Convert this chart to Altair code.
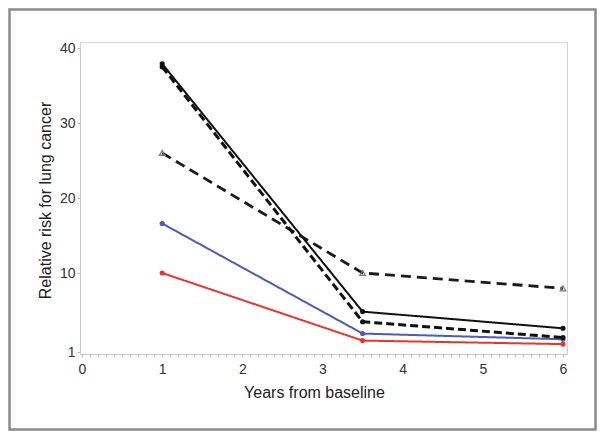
import altair as alt
import pandas as pd

years = [1, 3.5, 6]
series_names = ["Solid black", "Dashed black", "Dashed triangle", "Blue", "Red"]
s_solid_black = [37.9, 5.6, 3.7]
s_dashed_black = [37.5, 4.45, 2.65]
s_dashed_tri = [26.0, 10.0, 8.25]
s_blue = [16.6, 3.1, 2.45]
s_red = [10.0, 2.3, 1.9]

y_ticks = [1, 10, 20, 30, 40]
x_ticks = [i / 10 for i in range(61)]

styles = {
    "Red": dict(color="#e8362c", dash=[1, 0], width=2.0),
    "Blue": dict(color="#4b5bb7", dash=[1, 0], width=2.0),
    "Dashed triangle": dict(color="#1a1a1a", dash=[10, 6], width=2.8),
    "Dashed black": dict(color="#111111", dash=[8, 4], width=3.0),
    "Solid black": dict(color="#111111", dash=[1, 0], width=2.0),
}

rows = []
for name, vals in zip(series_names, [s_solid_black, s_dashed_black, s_dashed_tri, s_blue, s_red]):
    for x, v in zip(years, vals):
        rows.append({"series": name, "year": x, "rr": v})
df = pd.DataFrame(rows)

x_enc = alt.X("year:Q",
              scale=alt.Scale(domain=[-0.025, 6.05], nice=False, zero=False),
              axis=alt.Axis(values=x_ticks, title="Years from baseline",
                            labelExpr="abs(datum.value - round(datum.value)) < 0.001 ? '' + round(datum.value) : ''",
                            labelOverlap=False, tickSize=3, labelPadding=5, titlePadding=8,
                            titleX=234))
y_enc = alt.Y("rr:Q",
              scale=alt.Scale(domain=[1, 10, 40], range=[310, 231, 6], nice=False, zero=False),
              axis=alt.Axis(values=y_ticks, title="Relative risk for lung cancer",
                            tickSize=3, labelPadding=2, titlePadding=6))

layers = []
for name in ["Red", "Blue", "Dashed triangle", "Dashed black", "Solid black"]:
    st = styles[name]
    sub = alt.Chart(df).transform_filter(alt.datum.series == name)
    layers.append(sub.mark_line(color=st["color"], strokeDash=st["dash"],
                                strokeWidth=st["width"]).encode(x=x_enc, y=y_enc))
    if name == "Dashed triangle":
        layers.append(sub.mark_point(shape="triangle-up", filled=False, size=32,
                                     color="#777777", strokeWidth=1.2, opacity=1).encode(x=x_enc, y=y_enc))
    else:
        layers.append(sub.mark_point(shape="circle", filled=True, size=26,
                                     color=st["color"], opacity=1).encode(x=x_enc, y=y_enc))

border = alt.Chart(pd.DataFrame({"k": [0]})).mark_rect(
    fill=None, stroke="#8a8a8a", strokeWidth=2.5, clip=False
).encode(
    x=alt.value(-70.5), x2=alt.value(515.5), y=alt.value(-32.5), y2=alt.value(387.5)
)
layers.append(border)

chart = alt.layer(*layers).properties(
    width=487, height=312,
    autosize="none",
    padding={"left": 72, "top": 34, "right": 30, "bottom": 77},
    background="white",
).configure_view(
    stroke="#d2d2d2", strokeWidth=1
).configure_axis(
    grid=False,
    domainColor="#c4c4c4",
    tickColor="#b8b8b8",
    labelFont="Liberation Sans",
    titleFont="Liberation Sans",
    labelFontSize=14,
    titleFontSize=16,
    labelColor="#333333",
    titleColor="#222222",
    titleFontWeight="normal",
)

chart.save("out.html", embed_options={"renderer": "svg", "actions": False})
